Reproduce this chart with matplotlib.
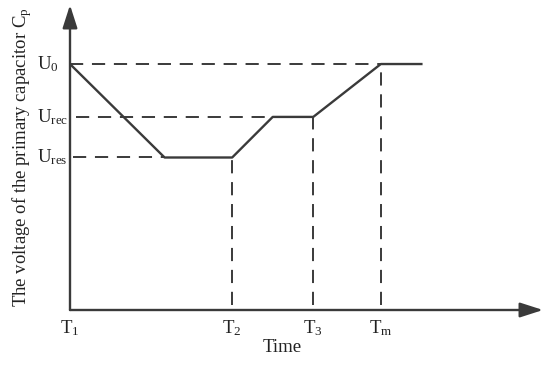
import matplotlib.pyplot as plt

plt.rcParams['font.family'] = ['Liberation Serif', 'DejaVu Serif']
plt.rcParams['mathtext.fontset'] = 'custom'
plt.rcParams['mathtext.rm'] = 'Liberation Serif'
plt.rcParams['mathtext.it'] = 'Liberation Serif'
plt.rcParams['lines.scale_dashes'] = False

# voltage levels (relative)
U0 = 1.0
Urec = 0.785
Ures = 0.62

# time marks
T1, T2, T3, Tm = 0.0, 4.8, 7.2, 9.2

# voltage curve of Cp
time_pts = [0.0, 2.8, T2, 6.0, T3, Tm, 10.4]
volt_pts = [U0, Ures, Ures, Urec, Urec, U0, U0]

t_labels = [r'$\mathrm{T_1}$', r'$\mathrm{T_2}$', r'$\mathrm{T_3}$', r'$\mathrm{T_m}$']
t_values = [T1, T2, T3, Tm]
u_labels = [r'$\mathrm{U_0}$', r'$\mathrm{U_{rec}}$', r'$\mathrm{U_{res}}$']
u_values = [U0, Urec, Ures]

col = '#3a3a3a'
fs = 13.5

fig = plt.figure(figsize=(5.5, 3.68), dpi=100)
ax = fig.add_axes([70 / 550, 58 / 368, 473 / 550, 305 / 368])
ax.set_xlim(0, 14.0)
ax.set_ylim(0, 1.24)
ax.axis('off')

# axes with arrows
arrow = dict(arrowstyle='-|>,head_length=1.4,head_width=0.45', color=col, lw=1.7,
             shrinkA=0, shrinkB=0)
ax.annotate('', xy=(1, 0), xytext=(0, 0), xycoords='axes fraction', arrowprops=arrow)
ax.annotate('', xy=(0, 1), xytext=(0, 0), xycoords='axes fraction', arrowprops=arrow)

# dashed guide lines
dash = (0, (9.5, 6.3))
ax.plot([0, Tm], [U0, U0], color=col, lw=1.4, linestyle=dash)
ax.plot([0.18, 6.0], [Urec, Urec], color=col, lw=1.4, linestyle=dash)
ax.plot([0.1, 2.8], [Ures, Ures], color=col, lw=1.4, linestyle=dash)
ax.plot([T2, T2], [0.02, Ures], color=col, lw=1.4, linestyle=dash)
ax.plot([T3, T3], [0.02, Urec], color=col, lw=1.4, linestyle=dash)
ax.plot([Tm, Tm], [0.02, U0], color=col, lw=1.4, linestyle=dash)

# voltage curve
ax.plot(time_pts, volt_pts, color=col, lw=1.7)

# labels
for t, lab in zip(t_values, t_labels):
    ax.annotate(lab, xy=(t, 0), xytext=(0, -13), textcoords='offset points',
                ha='center', va='center', fontsize=fs, color='#222222')
for u, lab in zip(u_values, u_labels):
    ax.text(-0.98, u, lab, ha='left', va='center', fontsize=fs, color='#222222')

fig.text(282 / 550, 1 - 348 / 368, 'Time', ha='center', va='center', fontsize=fs,
         color='#222222')
fig.text(22 / 550, 1 - 157 / 368, r'The voltage of the primary capacitor $\mathrm{C_p}$',
         rotation=90, ha='center', va='center', fontsize=fs, color='#222222')

fig.savefig('out.png', dpi=100)
